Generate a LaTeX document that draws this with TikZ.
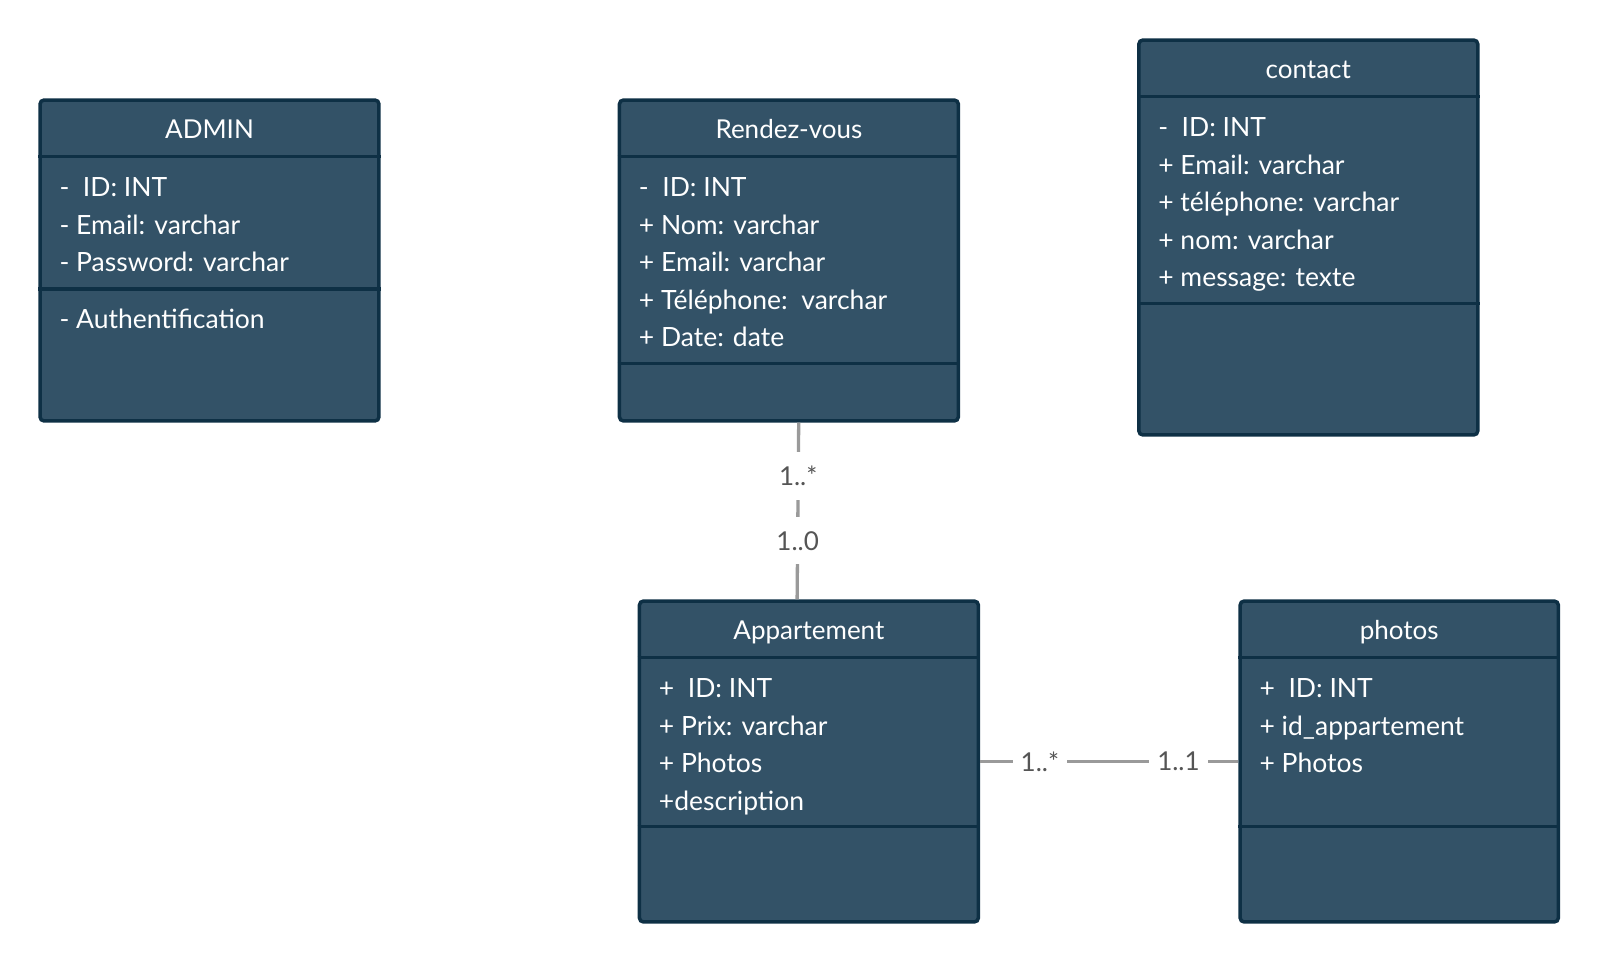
\documentclass[tikz,border=0pt]{standalone}
\definecolor{boxbg}{HTML}{335267}
\definecolor{boxfg}{HTML}{0E3045}
\definecolor{linkfg}{HTML}{9A9A9A}
\definecolor{multfg}{HTML}{555555}
\usepackage{fontspec}
\setmainfont{Lato}
\usepackage{tikz}
\usetikzlibrary{positioning}

\begin{document}
\begin{tikzpicture}[x=1pt, y=-1pt, text=white,
	umlbox/.style = {fill=boxbg, draw=boxfg, line width=3.5pt, rectangle, rounded corners=4pt, inner sep=0pt, minimum width=338.9pt, minimum height=320.9pt},
	divider/.style = {draw=boxfg, line width=3.5pt},
	ctitle/.style = {anchor=base, inner sep=0pt, font=\fontsize{26}{37.5}\selectfont},
	attrs/.style = {anchor=north west, align=left, inner sep=0pt, font=\fontsize{26.5}{37.5}\selectfont},
	assoc/.style = {draw=linkfg, line width=3.3pt},
	multlab/.style = {fill=white, text=multfg, inner xsep=8pt, inner ysep=14pt, font=\fontsize{26}{30}\selectfont}]

\useasboundingbox (0,0) rectangle (1600,962);

% classes
\node[umlbox] (admin) at (209.5,260.5) {};
\node[umlbox, right=237pt of admin] (rdv) {};
\node[umlbox, minimum height=394.9pt, right=177pt of rdv.north east, anchor=north west, yshift=60pt] (contact) {};
\node[umlbox, below=176.6pt of rdv, xshift=20pt] (appart) {};
\node[umlbox, minimum width=318.2pt, right=258.3pt of appart] (photos) {};

\draw[divider] ([yshift=-58.4pt]admin.north west) -- ([yshift=-58.4pt]admin.north east);
\draw[divider] ([yshift=-190.7pt]admin.north west) -- ([yshift=-190.7pt]admin.north east);
\draw[divider] ([yshift=-58.4pt]rdv.north west) -- ([yshift=-58.4pt]rdv.north east);
\draw[divider] ([yshift=-265pt]rdv.north west) -- ([yshift=-265pt]rdv.north east);
\draw[divider] ([yshift=-58.4pt]contact.north west) -- ([yshift=-58.4pt]contact.north east);
\draw[divider] ([yshift=-265pt]contact.north west) -- ([yshift=-265pt]contact.north east);
\draw[divider] ([yshift=-58.4pt]appart.north west) -- ([yshift=-58.4pt]appart.north east);
\draw[divider] ([yshift=-227.4pt]appart.north west) -- ([yshift=-227.4pt]appart.north east);
\draw[divider] ([yshift=-58.4pt]photos.north west) -- ([yshift=-58.4pt]photos.north east);
\draw[divider] ([yshift=-227.4pt]photos.north west) -- ([yshift=-227.4pt]photos.north east);

% names
\node[ctitle] (admin-t) at ([yshift=-40pt]admin.north) {ADMIN};
\node[ctitle] (rdv-t) at ([yshift=-40pt]rdv.north) {Rendez-vous};
\node[ctitle] (contact-t) at ([yshift=-40pt]contact.north) {contact};
\node[ctitle] (appart-t) at ([yshift=-40pt]appart.north) {Appartement};
\node[ctitle] (photos-t) at ([yshift=-40pt]photos.north) {photos};

% attributes and methods
\node[attrs] (admin-a) at ([xshift=21pt, yshift=-72pt]admin.north west) {\strut-\ \ ID: INT\\- Email: varchar\\- Password: varchar};
\node[attrs] (admin-m) at ([xshift=21pt, yshift=-204pt]admin.north west) {\strut- Authentification};
\node[attrs] (rdv-a) at ([xshift=21pt, yshift=-72pt]rdv.north west) {\strut-\ \ ID: INT\\+ Nom: varchar\\+ Email: varchar\\+ Téléphone:\ \ varchar\\+ Date: date};
\node[attrs] (contact-a) at ([xshift=21pt, yshift=-72pt]contact.north west) {\strut-\ \ ID: INT\\+ Email: varchar\\+ téléphone: varchar\\+ nom: varchar\\+ message: texte};
\node[attrs] (appart-a) at ([xshift=21pt, yshift=-72pt]appart.north west) {\strut+\ \ ID: INT\\+ Prix: varchar\\+ Photos\\+description};
\node[attrs] (photos-a) at ([xshift=21pt, yshift=-72pt]photos.north west) {\strut+\ \ ID: INT\\+ id\_appartement\\+ Photos};

% associations
\draw[assoc] ([xshift=9.8pt]rdv.south) -- node[multlab, pos=0.3] (m1) {1..*} node[multlab, pos=0.668] (m2) {1..0} ([xshift=-11.8pt]appart.north);
\draw[assoc] (appart.east) -- node[multlab, pos=0.2315] (m3) {1..*} node[multlab, pos=0.768] (m4) {1..1} (photos.west);

\end{tikzpicture}
\end{document}
